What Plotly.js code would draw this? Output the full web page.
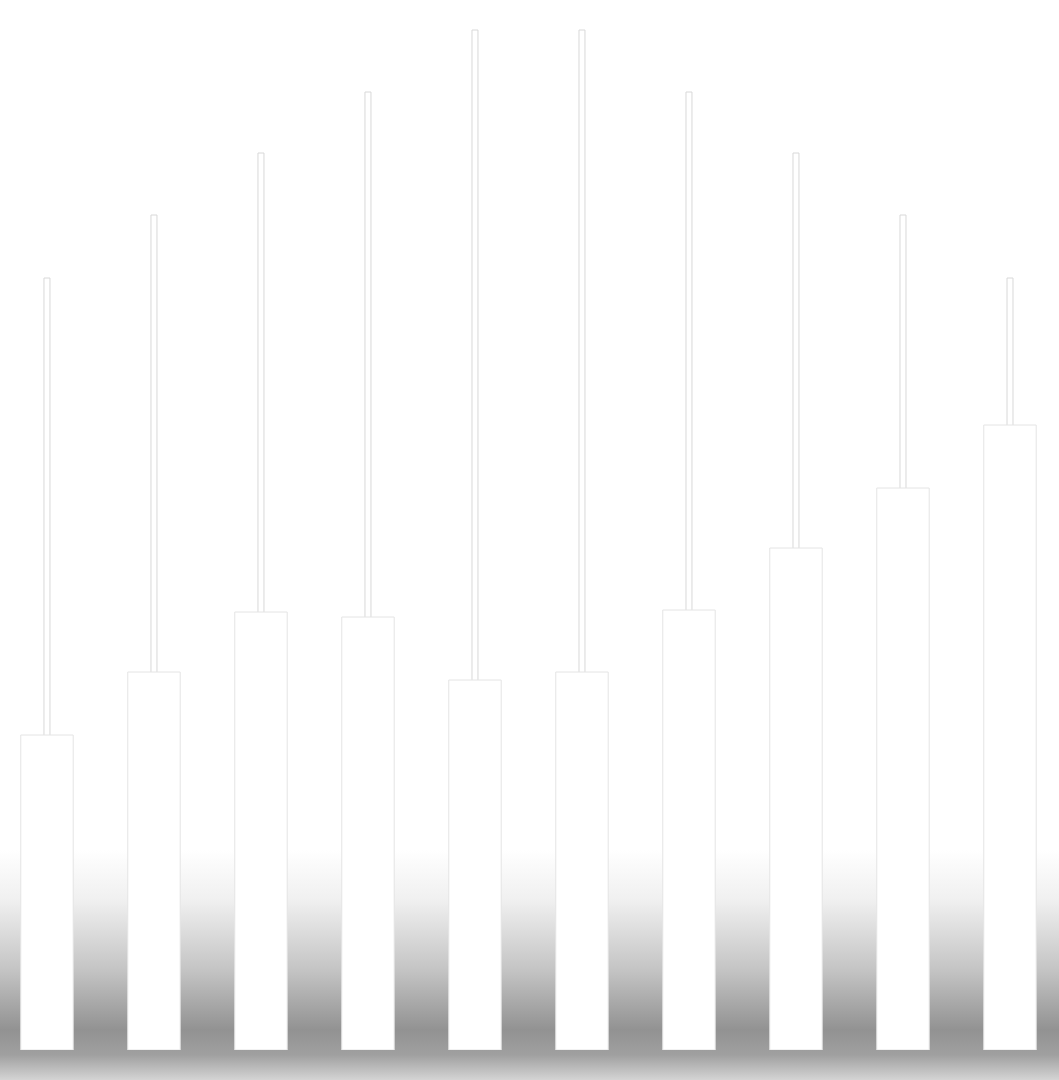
<!DOCTYPE html>
<html><head><meta charset="utf-8">
<script src="https://cdn.plot.ly/plotly-3.0.1.min.js"></script>
<style>
html,body{margin:0;padding:0;width:1059px;height:1080px;overflow:hidden;
background:linear-gradient(to bottom,#ffffff 0px,#ffffff 850px,#f0f0f0 900px,#c4c4c4 970px,#929292 1030px,#a0a0a0 1055px,#d4d4d4 1080px);}
#chart{width:1059px;height:1080px;}
</style></head><body>
<div id="chart"></div>
<script>
const categories = ["1","2","3","4","5","6","7","8","9","10"];
const barValues = [315, 378, 438, 433, 370, 378, 440, 502, 562, 625];
const stemValues = [772, 835, 897, 958, 1020, 1020, 958, 897, 835, 772];
const xIdx = categories.map((c,i)=>i);

const traces = [
  {type:"bar", x:xIdx, y:stemValues, width:0.056,
   marker:{color:"#ffffff", line:{color:"#d8d8d8", width:1}}, hoverinfo:"none"},
  {type:"bar", x:xIdx, y:barValues, width:0.49,
   marker:{color:"#ffffff", line:{color:"#e4e4e4", width:1}}, hoverinfo:"none"}
];
const layout = {
  width:1059, height:1080, barmode:"overlay", showlegend:false,
  paper_bgcolor:"rgba(0,0,0,0)", plot_bgcolor:"rgba(0,0,0,0)",
  margin:{l:0, r:0, t:0, b:30},
  xaxis:{visible:false, range:[-0.439, 9.458]},
  yaxis:{visible:false, range:[0,1050]}
};
Plotly.newPlot("chart", traces, layout, {displayModeBar:false, staticPlot:true});
</script>
</body></html>
